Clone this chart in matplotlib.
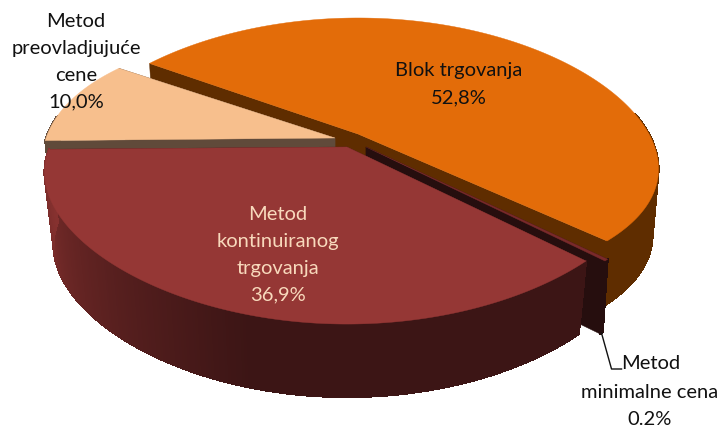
import numpy as np
import matplotlib
matplotlib.use("Agg")
import matplotlib.pyplot as plt
from matplotlib.patches import Polygon
from matplotlib.collections import PolyCollection
from matplotlib.colors import to_rgb

categories = ["Blok trgovanja", "Metod minimalne cena", "Metod kontinuiranog trgovanja", "Metod preovladjujuće cene"]
values = [52.8, 0.2, 36.9, 10.0]
value_labels = ["52,8%", "0.2%", "36,9%", "10,0%"]

START_DEG = -55.0

# projection parameters per slice: apex, radii, perspective, wall height
GEOM = [
    dict(ax=358, ay=135, R=291, kx=.25, A=134, ky=.155, H=66, m=.02),
    dict(ax=366, ay=148, R=297, kx=.19, A=125, ky=.294, H=73, m=.02),
    dict(ax=347, ay=148, R=297, kx=.19, A=125, ky=.294, H=73, m=.03),
    dict(ax=335, ay=139, R=289, kx=.167, A=142, ky=.294, H=73, m=.03),
]
TOP = ["#E36C09", "#7A2A2A", "#953735", "#F7BF8D"]
RADIAL = ["#5F2D00", "#260E0E", "#3C1515", "#604A3A"]
OUTER_A = ["#5F2D00", "#260E0E", "#3C1515", "#604A3A"]
OUTER_B = ["#5F2D00", "#260E0E", "#86312F", "#604A3A"]


def proj(theta, r, z, g):
    x, y = r * np.sin(theta), r * np.cos(theta)
    X = g["ax"] + g["R"] * x / (1 + g["kx"] * y) * (1 - g["m"] * z)
    Y = g["ay"] - g["A"] * y / (1 + g["ky"] * y) + g["H"] * z
    return np.column_stack([np.ravel(X), np.ravel(Y)])


fig = plt.figure(figsize=(7.21, 4.27), dpi=100, facecolor="white")
ax = fig.add_axes([0, 0, 1, 1])
ax.set_xlim(0, 721)
ax.set_ylim(427, 0)
ax.axis("off")

fractions = np.array(values) / np.sum(values)
edges = np.radians(START_DEG + 360 * np.concatenate([[0], np.cumsum(fractions)]))


def draw_slice(i, z0):
    g = GEOM[i]
    t = np.linspace(edges[i], edges[i + 1], max(4, int(np.degrees(edges[i + 1] - edges[i]) * 2)))
    # radial walls
    for th in (edges[i], edges[i + 1]):
        a = proj(np.array([th]), 0, 0, g)[0]
        b = proj(np.array([th]), 1, 0, g)[0]
        c = proj(np.array([th]), 1, 1, g)[0]
        d = proj(np.array([th]), 0, 1, g)[0]
        ax.add_patch(Polygon([a, b, c, d], fc=RADIAL[i], ec=RADIAL[i], lw=.3, zorder=z0))
    # outer wall, shaded along the arc
    top = proj(t, 1, 0, g)
    bot = proj(t, 1, 1, g)
    polys, cols = [], []
    ca, cb = np.array(to_rgb(OUTER_A[i])), np.array(to_rgb(OUTER_B[i]))
    for j in range(len(t) - 1):
        if np.cos(t[j]) > 0.15 and np.cos(t[j + 1]) > 0.15:
            continue
        polys.append([top[j], top[j + 1], bot[j + 1], bot[j]])
        f = np.clip((j / (len(t) - 2) - .45) / .55, 0, 1)
        cols.append(ca + (cb - ca) * f)
    if polys:
        ax.add_collection(PolyCollection(polys, facecolors=cols, edgecolors=cols, linewidths=.8,
                                         antialiaseds=False, zorder=z0 + .1))
    # top face
    pts = np.vstack([proj(np.array([0.]), 0, 0, g), top])
    ax.add_patch(Polygon(pts, fc=TOP[i], ec=TOP[i], lw=.3, zorder=z0 + .2))


draw_slice(0, 1)
draw_slice(3, 2)
draw_slice(1, 3)
draw_slice(2, 4)

kw = dict(ha="center", va="center", fontsize=14.5, linespacing=1.7, family="Lato", zorder=9)
ax.text(459, 84, f"{categories[0]}\n{value_labels[0]}", color="#111111", **kw)
ax.text(278, 255, f"Metod\nkontinuiranog\ntrgovanja\n{value_labels[2]}", color="#F8D9BC", **kw)
ax.text(76, 62, f"Metod\npreovladjujuće\ncene\n{value_labels[3]}", color="#111111", **kw)
ax.text(651, 364, "Metod", color="#111111", **kw)
ax.text(650, 406, f"minimalne cena\n{value_labels[1]}", color="#111111", **kw)

# leader line from the small slice to its label
small_mid = (edges[1] + edges[2]) / 2
anchor = proj(np.array([small_mid]), 1, 1, GEOM[1])[0]
ax.plot([anchor[0], anchor[0] + 10, anchor[0] + 20], [anchor[1], 370, 370], color="#111111", lw=1, zorder=8)

fig.savefig("out.png", dpi=100)
